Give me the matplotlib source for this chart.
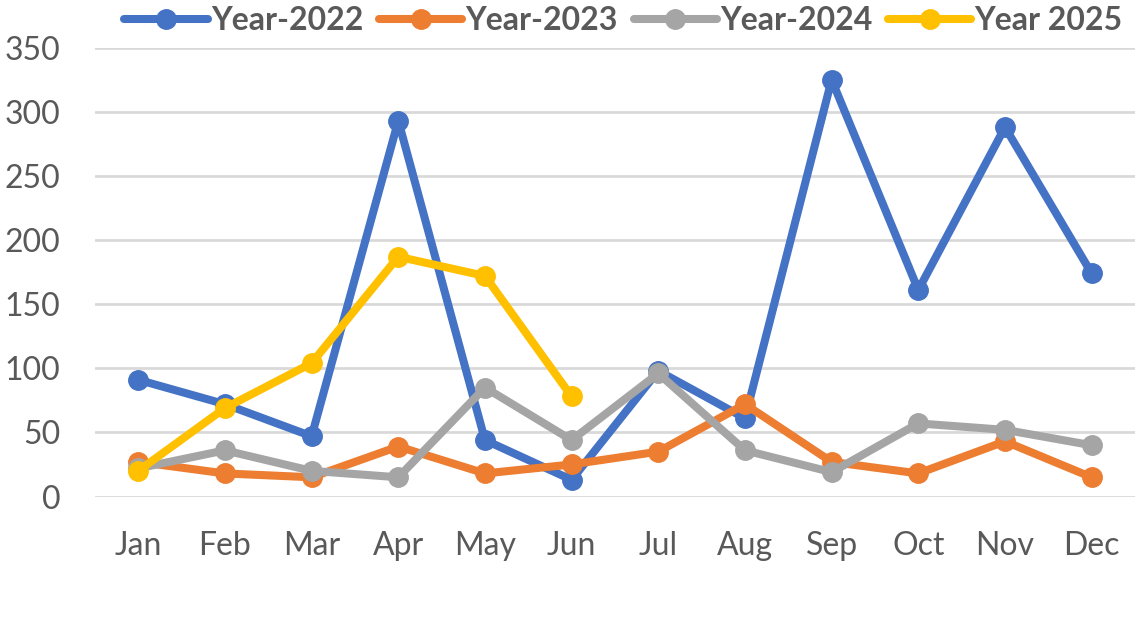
import matplotlib.pyplot as plt

months = ["Jan", "Feb", "Mar", "Apr", "May", "Jun", "Jul", "Aug", "Sep", "Oct", "Nov", "Dec"]
y2022 = [91, 72, 47, 293, 44, 13, 98, 61, 325, 161, 288, 174]
y2023 = [27, 18, 15, 39, 18, 25, 35, 72, 27, 18, 43, 15]
y2024 = [22, 36, 20, 15, 85, 44, 96, 36, 19, 57, 52, 40]
y2025 = [20, 69, 104, 187, 172, 78]

series = [
    ("Year-2022", y2022, "#4472C4"),
    ("Year-2023", y2023, "#ED7D31"),
    ("Year-2024", y2024, "#A5A5A5"),
    ("Year 2025", y2025, "#FFC000"),
]

plt.rcParams['font.family'] = ['Lato', 'DejaVu Sans']
txt = "#595959"

fig = plt.figure(figsize=(11.4, 6.41), dpi=100)
ax = fig.add_axes([0.0833, 0.2254, 0.9123, 0.7002])

x = list(range(len(months)))
for name, vals, clr in series:
    ax.plot(x[:len(vals)], vals, color=clr, lw=5.8, marker='o', ms=14,
            label=name, solid_joinstyle='round', solid_capstyle='round')

ax.set_xlim(-0.5, 11.5)
ax.set_ylim(0, 350)
ax.set_yticks(range(0, 351, 50))
ax.set_xticks(x)
ax.set_xticklabels(months)
ax.yaxis.grid(True, color="#D9D9D9", lw=2)
ax.set_axisbelow(True)
for s in ax.spines.values():
    s.set_visible(False)
ax.tick_params(axis='both', length=0, labelsize=23, colors=txt)
ax.tick_params(axis='y', pad=25)
ax.tick_params(axis='x', pad=25)

fig.legend(loc='upper center', bbox_to_anchor=(0.547, 1.035), ncol=4, frameon=False,
           handlelength=2.6, columnspacing=0.5, handletextpad=0.1,
           prop={'weight': 'bold', 'size': 23}, labelcolor=txt)

fig.savefig("out.png", dpi=100)
